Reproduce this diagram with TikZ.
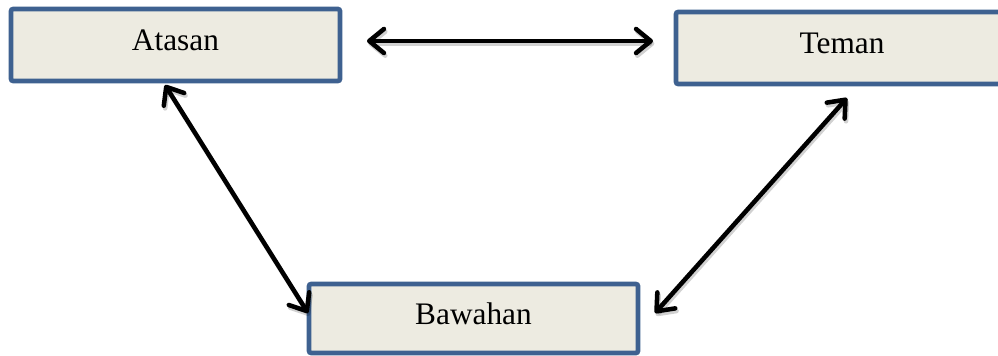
\documentclass[tikz,border=0pt]{standalone}
\usepackage{fontspec}
\setmainfont{Liberation Serif}
\usetikzlibrary{arrows.meta,shadows}
\definecolor{boxblue}{HTML}{3E6190}
\definecolor{boxfill}{HTML}{EDEBE1}
\begin{document}
\begin{tikzpicture}[x=0.75pt,y=-0.75pt,
  box/.style={draw=boxblue, line width=3.4pt, fill=boxfill, rounded corners=1.5pt,
    inner sep=0pt, outer sep=0pt, font=\fontsize{23.5}{28}\selectfont,
    text height=15.4pt, text depth=6.4pt,
    drop shadow={shadow xshift=1pt, shadow yshift=-1.5pt, opacity=0.25}},
  link/.style={line width=3.4pt, line cap=round, {Straight Barb[length=11pt,width=18pt,round]}-{Straight Barb[length=11pt,width=18pt,round]}},
  linkshadow/.style={link, draw=black, opacity=0.18, transform canvas={shift={(1pt,-2pt)}}}
]
\useasboundingbox (0,0) rectangle (998,356);
\fill[white] (0,0) rectangle (998,356);
\clip (0,0) rectangle (998,356);

\node[box, minimum width=246.75pt, minimum height=54pt] (atasan) at (175.5,45) {Atasan};
\node[box, minimum width=249pt, minimum height=54pt] (teman) at (842,48) {Teman};
\node[box, minimum width=246.75pt, minimum height=51.75pt] (bawahan) at (473.5,318.5) {Bawahan};

\draw[linkshadow] ([shift={(27,-4)}]atasan.east) -- ([shift={(-23,-7)}]teman.west);
\draw[linkshadow] ([shift={(-10.5,4)}]atasan.south) -- ([shift={(-1,-5.5)}]bawahan.west);
\draw[linkshadow] ([shift={(5,14)}]teman.south) -- ([shift={(17,-5.5)}]bawahan.east);

\draw[link] ([shift={(27,-4)}]atasan.east) -- ([shift={(-23,-7)}]teman.west);
\draw[link] ([shift={(-10.5,4)}]atasan.south) -- ([shift={(-1,-5.5)}]bawahan.west);
\draw[link] ([shift={(5,14)}]teman.south) -- ([shift={(17,-5.5)}]bawahan.east);
\end{tikzpicture}
\end{document}
